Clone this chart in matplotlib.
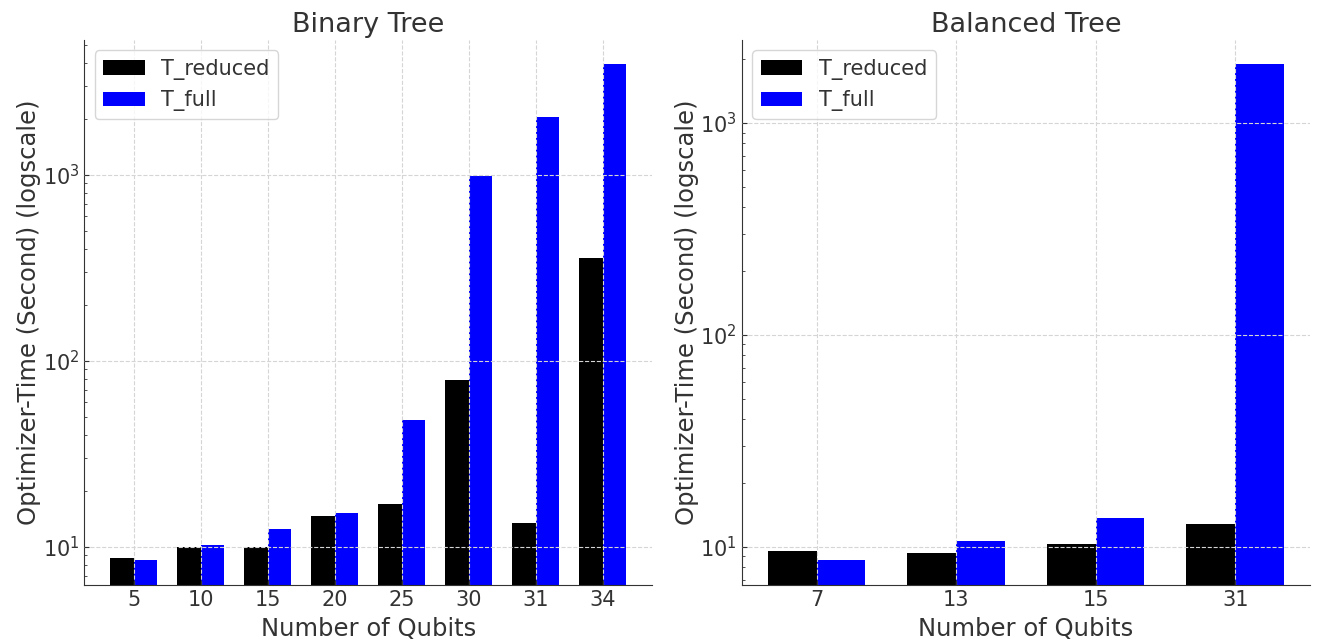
import matplotlib
matplotlib.use("Agg")
import matplotlib.pyplot as plt
import numpy as np

# Binary tree
bin_qubits = ["5", "10", "15", "20", "25", "30", "31", "34"]
bin_reduced = [8.7, 10.0, 10.0, 14.7, 17.0, 79, 13.5, 358]
bin_full = [8.5, 10.25, 12.5, 15.2, 48, 990, 2050, 3950]

# Balanced tree
bal_qubits = ["7", "13", "15", "31"]
bal_reduced = [9.5, 9.3, 10.35, 12.8]
bal_full = [8.7, 10.7, 13.6, 1900]

txt = "#333333"
plt.rcParams["text.color"] = txt
plt.rcParams["axes.labelcolor"] = txt
plt.rcParams["xtick.color"] = txt
plt.rcParams["ytick.color"] = txt
plt.rcParams["axes.edgecolor"] = txt

fig, axes = plt.subplots(1, 2, figsize=(13.19, 6.44), dpi=100)
fig.subplots_adjust(left=0.064, right=0.993, top=0.938, bottom=0.092, wspace=0.158)

w = 0.35
panels = [
    (axes[0], "Binary Tree", bin_qubits, bin_reduced, bin_full, (6.25, 5320)),
    (axes[1], "Balanced Tree", bal_qubits, bal_reduced, bal_full, (6.62, 2460)),
]
for ax, title, cats, red, full, lim in panels:
    x = np.arange(len(cats))
    ax.bar(x - w / 2, red, w, color="black", label="T_reduced")
    ax.bar(x + w / 2, full, w, color="blue", label="T_full")
    ax.set_yscale("log")
    ax.set_ylim(*lim)
    ax.set_xticks(x)
    ax.set_xticklabels(cats)
    ax.set_title(title, fontsize=19.5)
    ax.set_xlabel("Number of Qubits", fontsize=17.5, labelpad=5)
    ax.set_ylabel("Optimizer-Time (Second) (logscale)", fontsize=17.5, labelpad=1)
    ax.tick_params(labelsize=15, direction="in", which="both")
    ax.grid(True, which="major", linestyle="--", color="#d5d5d5", linewidth=0.8)
    ax.set_axisbelow(False)
    for s in ["top", "right"]:
        ax.spines[s].set_visible(False)
    ax.legend(loc="upper left", fontsize=15)

fig.savefig("out.png", dpi=100)
